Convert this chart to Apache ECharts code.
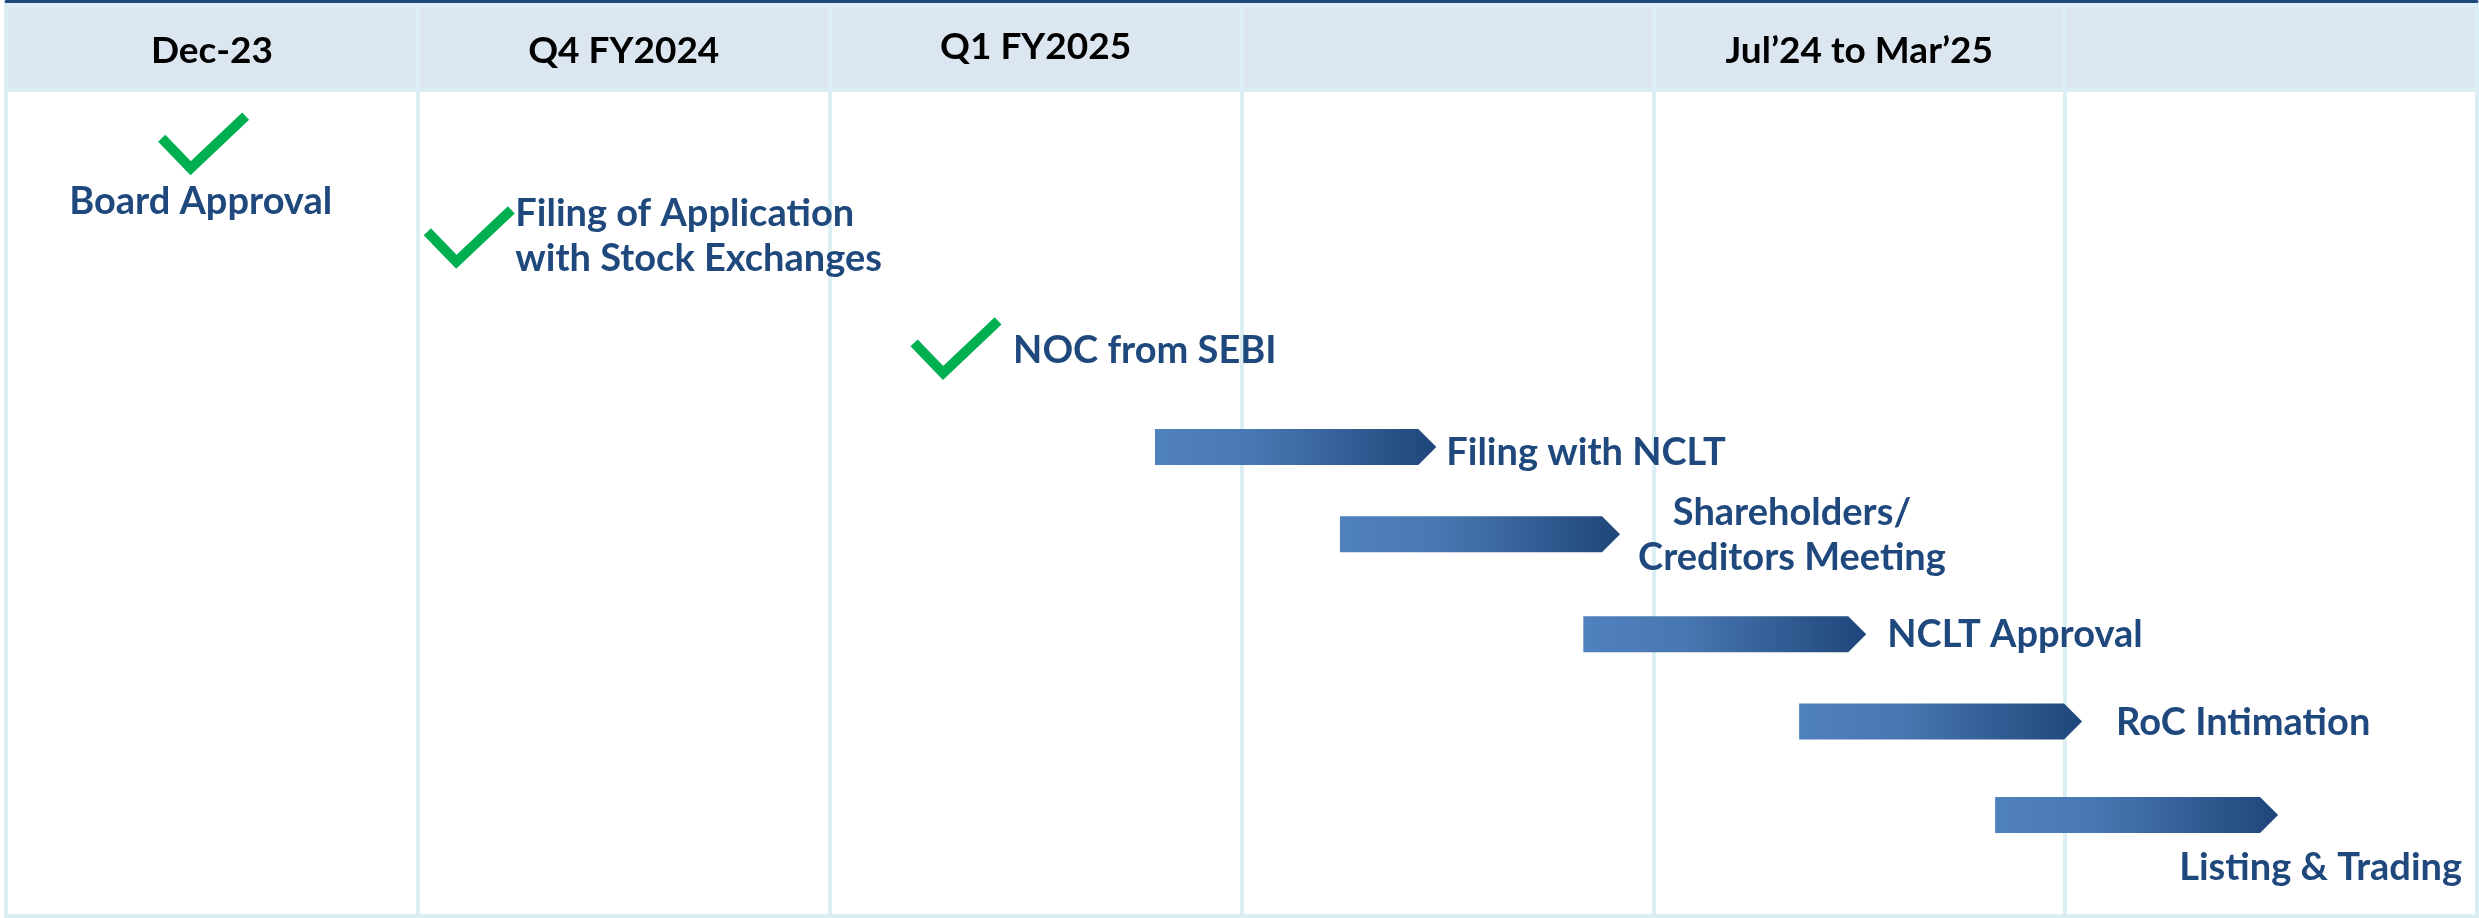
<!DOCTYPE html>
<html>
<head>
<meta charset="utf-8">
<script src="https://cdn.jsdelivr.net/npm/echarts@6/dist/echarts.min.js"></script>
<style>
  html, body { margin: 0; padding: 0; background: #fff; }
  #chart { width: 2479px; height: 918px; }
</style>
</head>
<body>
<div id="chart"></div>
<script>
// header periods, one per column (empty columns have no heading)
const periods = ['Dec-23', 'Q4 FY2024', 'Q1 FY2025', '', 'Jul\u201924 to Mar\u201925', ''];

// completed steps (green tick): column position and row
const doneSteps = ['Board Approval', 'Filing of Application\nwith Stock Exchanges', 'NOC from SEBI'];
const doneX = [0.48, 1.125, 2.307];
const doneRow = [0.58, 1.60, 2.81];

// upcoming steps (arrow): start / end in columns, row
const nextSteps = ['Filing with NCLT', 'Shareholders/\nCreditors Meeting', 'NCLT Approval', 'RoC Intimation', 'Listing & Trading'];
const nextStart = [2.790, 3.239, 3.830, 4.354, 4.830];
const nextEnd = [3.473, 3.919, 4.517, 5.041, 5.517];
const nextRow = [3.89, 4.84, 5.93, 6.88, 7.90];

// label placement (px, relative to the mark)
const headerDy = [4, 4, 0, 0, 4, 0];
const doneLabel = [
  { dx: -3, dy: 59, align: 'center' },
  { dx: 46, dy: -1, align: 'left' },
  { dx: 57, dy: 3, align: 'left' }
];
const nextLabel = [
  { dx: 10, dy: 6, align: 'left' },
  { dx: 172, dy: 1, align: 'center' },
  { dx: 21, dy: 1, align: 'left' },
  { dx: 34, dy: 1, align: 'left' },
  { dx: 184, dy: 53, align: 'right' }
];

const blue = '#1f497d';
const lineCol = '#daeef3';
const font = { fontFamily: 'Lato', fontWeight: 'bold', fontSize: 38 };

const chart = echarts.init(document.getElementById('chart'), null, { renderer: 'canvas' });

chart.setOption({
  animation: false,
  backgroundColor: '#ffffff',
  grid: [
    { left: 6, right: 2, top: 5, height: 85, show: true, backgroundColor: '#dce6f1', borderColor: lineCol, borderWidth: 4 },
    { left: 6, right: 2, top: 90, bottom: 2, show: true, backgroundColor: '#ffffff', borderColor: lineCol, borderWidth: 4 }
  ],
  xAxis: [
    {
      gridIndex: 0, type: 'value', min: 0, max: 6, interval: 1, position: 'top', offset: 3.5,
      axisLine: { show: true, onZero: false, lineStyle: { color: blue, width: 3 } },
      axisTick: { show: false }, axisLabel: { show: false },
      splitLine: { show: true, lineStyle: { color: lineCol, width: 4 } }
    },
    {
      gridIndex: 1, type: 'value', min: 0, max: 6, interval: 1,
      axisLine: { show: false }, axisTick: { show: false }, axisLabel: { show: false },
      splitLine: { show: true, lineStyle: { color: lineCol, width: 4 } }
    }
  ],
  yAxis: [
    { gridIndex: 0, type: 'value', min: 0, max: 1, inverse: true, show: false, splitLine: { show: false } },
    { gridIndex: 1, type: 'value', min: 0, max: 9, inverse: true, show: false, splitLine: { show: false } }
  ],
  series: [
    {
      name: 'periods',
      type: 'custom',
      xAxisIndex: 0, yAxisIndex: 0,
      data: periods.map((p, i) => [i + 0.5, 0.5]),
      renderItem: (params, api) => {
        const c = api.coord([api.value(0), api.value(1)]);
        return {
          type: 'text',
          x: c[0], y: c[1] + headerDy[params.dataIndex],
          style: Object.assign({ text: periods[params.dataIndex], fill: '#000', align: 'center', verticalAlign: 'middle' }, font, { fontSize: 37 })
        };
      }
    },
    {
      name: 'done',
      type: 'custom',
      xAxisIndex: 1, yAxisIndex: 1,
      data: doneSteps.map((s, i) => [doneX[i], doneRow[i]]),
      renderItem: (params, api) => {
        const c = api.coord([api.value(0), api.value(1)]);
        const lab = doneLabel[params.dataIndex];
        return {
          type: 'group',
          children: [
            {
              type: 'polyline',
              shape: { points: [[c[0] - 42, c[1] - 5], [c[0] - 13, c[1] + 25], [c[0] + 42, c[1] - 27]] },
              style: { stroke: '#00b050', lineWidth: 10, fill: null, lineJoin: 'miter' }
            },
            {
              type: 'text',
              x: c[0] + lab.dx, y: c[1] + lab.dy,
              style: Object.assign({ text: doneSteps[params.dataIndex], fill: blue, align: lab.align, verticalAlign: 'middle', lineHeight: 45 }, font)
            }
          ]
        };
      }
    },
    {
      name: 'next',
      type: 'custom',
      xAxisIndex: 1, yAxisIndex: 1,
      data: nextSteps.map((s, i) => [nextStart[i], nextEnd[i], nextRow[i]]),
      renderItem: (params, api) => {
        const s = api.coord([api.value(0), api.value(2)]);
        const e = api.coord([api.value(1), api.value(2)]);
        const h = 36, tip = 18;
        const lab = nextLabel[params.dataIndex];
        return {
          type: 'group',
          children: [
            {
              type: 'polygon',
              shape: { points: [[s[0], s[1] - h / 2], [e[0] - tip, s[1] - h / 2], [e[0], s[1]], [e[0] - tip, s[1] + h / 2], [s[0], s[1] + h / 2]] },
              style: {
                fill: new echarts.graphic.LinearGradient(0, 0, 1, 0, [
                  { offset: 0, color: '#4f81bd' },
                  { offset: 0.35, color: '#4878b2' },
                  { offset: 1, color: '#1f467a' }
                ])
              }
            },
            {
              type: 'text',
              x: e[0] + lab.dx, y: e[1] + lab.dy,
              style: Object.assign({ text: nextSteps[params.dataIndex], fill: blue, align: lab.align, verticalAlign: 'middle', lineHeight: 45 }, font)
            }
          ]
        };
      }
    }
  ]
});
</script>
</body>
</html>
